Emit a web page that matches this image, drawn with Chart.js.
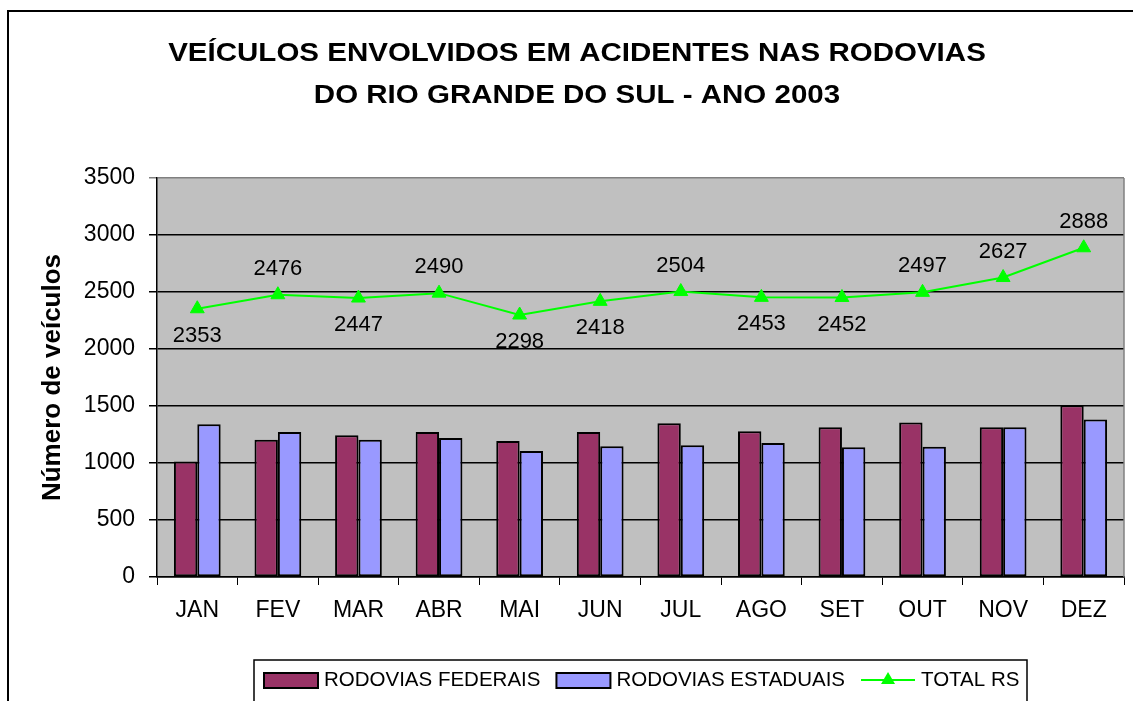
<!DOCTYPE html>
<html>
<head>
<meta charset="utf-8">
<script src="https://cdn.jsdelivr.net/npm/chart.js@4/dist/chart.umd.min.js"></script>
<style>
html,body{margin:0;padding:0;background:#fff;}
#wrap{width:1133px;height:701px;position:relative;}
</style>
</head>
<body>
<div id="wrap"><canvas id="c"></canvas></div>
<script>
const titleLines = ['VEÍCULOS ENVOLVIDOS EM ACIDENTES NAS RODOVIAS', 'DO RIO GRANDE DO SUL - ANO 2003'];
const yAxisTitle = 'Número de veículos';
const months = ['JAN','FEV','MAR','ABR','MAI','JUN','JUL','AGO','SET','OUT','NOV','DEZ'];
const federais = [1013, 1205, 1243, 1271, 1192, 1271, 1349, 1278, 1314, 1355, 1313, 1506];
const estaduais = [1340, 1271, 1204, 1219, 1106, 1147, 1155, 1175, 1138, 1142, 1314, 1382];
const totalRS = [2353, 2476, 2447, 2490, 2298, 2418, 2504, 2453, 2452, 2497, 2627, 2888];
const labelSide = ['below','above','below','above','below','below','above','below','below','above','above','above'];
const seriesNames = ['RODOVIAS FEDERAIS', 'RODOVIAS ESTADUAIS', 'TOTAL RS'];

const FONT = "'Liberation Sans', Arial, sans-serif";

const decor = {
  id: 'decor',
  beforeDraw(chart) {
    const {ctx, chartArea: a} = chart;
    ctx.save();
    ctx.fillStyle = '#ffffff';
    ctx.fillRect(0, 0, chart.width, chart.height);
    ctx.fillStyle = '#c0c0c0';
    ctx.fillRect(a.left, a.top, a.right - a.left, a.bottom - a.top);
    ctx.restore();
  },
  afterDatasetsDraw(chart) {
    const {ctx} = chart;
    const meta = chart.getDatasetMeta(2);
    ctx.save();
    ctx.font = '22px ' + FONT;
    ctx.fillStyle = '#000';
    ctx.textAlign = 'center';
    ctx.textBaseline = 'middle';
    meta.data.forEach((pt, i) => {
      const dy = labelSide[i] === 'above' ? -26 : 27;
      ctx.fillText(String(totalRS[i]), pt.x, pt.y + dy);
    });
    ctx.restore();
  },
  afterDraw(chart) {
    const {ctx, chartArea: a} = chart;
    ctx.save();
    ctx.strokeStyle = '#808080';
    ctx.lineWidth = 1.5;
    ctx.beginPath();
    ctx.moveTo(a.right, a.top);
    ctx.lineTo(a.right, a.bottom);
    ctx.stroke();
    ctx.strokeStyle = '#000';
    ctx.lineWidth = 2;
    ctx.strokeRect(8, 11, 1300, 900);
    ctx.fillStyle = '#000';
    ctx.font = 'bold 26px ' + FONT;
    ctx.textAlign = 'center';
    ctx.textBaseline = 'middle';
    const cx = 577, sx = 1.135;
    [54, 96].forEach((y, i) => {
      ctx.save();
      ctx.translate(cx, y);
      ctx.scale(sx, 1);
      ctx.fillText(titleLines[i], 0, 0);
      ctx.restore();
    });
    ctx.lineWidth = 1.5;
    ctx.strokeStyle = '#000';
    ctx.strokeRect(254, 660, 773, 80);
    ctx.font = '20.5px ' + FONT;
    ctx.textAlign = 'left';
    ctx.textBaseline = 'middle';
    const ly = 680;
    let x = 264;
    const ds = chart.data.datasets;
    for (let i = 0; i < 3; i++) {
      if (i < 2) {
        ctx.fillStyle = ds[i].backgroundColor;
        ctx.fillRect(x, ly - 7, 54, 15);
        ctx.lineWidth = 2;
        ctx.strokeStyle = '#000';
        ctx.strokeRect(x, ly - 7, 54, 15);
      } else {
        ctx.strokeStyle = ds[i].borderColor;
        ctx.lineWidth = 2;
        ctx.beginPath();
        ctx.moveTo(x, ly);
        ctx.lineTo(x + 54, ly);
        ctx.stroke();
        ctx.fillStyle = ds[i].pointBackgroundColor;
        ctx.beginPath();
        ctx.moveTo(x + 27, ly - 8);
        ctx.lineTo(x + 27 + 7, ly + 4);
        ctx.lineTo(x + 27 - 7, ly + 4);
        ctx.closePath();
        ctx.fill();
      }
      ctx.fillStyle = '#000';
      ctx.fillText(seriesNames[i], x + 60, ly);
      x = x + 60 + ctx.measureText(seriesNames[i]).width + 16;
    }
    ctx.restore();
  }
};

new Chart(document.getElementById('c'), {
  data: {
    labels: months,
    datasets: [
      {type: 'bar', label: seriesNames[0], data: federais, backgroundColor: '#993366', borderColor: '#000', borderWidth: 2, borderSkipped: false, order: 2, barPercentage: 1, categoryPercentage: 0.58},
      {type: 'bar', label: seriesNames[1], data: estaduais, backgroundColor: '#9999ff', borderColor: '#000', borderWidth: 2, borderSkipped: false, order: 2, barPercentage: 1, categoryPercentage: 0.58},
      {type: 'line', label: seriesNames[2], data: totalRS, borderColor: '#00ff00', backgroundColor: '#00ff00', borderWidth: 2, pointStyle: 'triangle', pointRadius: 8, pointBackgroundColor: '#00ff00', pointBorderColor: '#00ff00', pointBorderWidth: 1, tension: 0, order: 0}
    ]
  },
  options: {
    responsive: true,
    maintainAspectRatio: false,
    animation: false,
    layout: {padding: {top: 178, left: 0, right: 7, bottom: 74}},
    plugins: {legend: {display: false}, title: {display: false}, tooltip: {enabled: false}},
    scales: {
      x: {
        offset: true,
        grid: {display: true, drawOnChartArea: false, drawTicks: true, tickLength: 8, color: '#000', offset: true},
        border: {color: '#000', width: 1.5},
        ticks: {color: '#000', font: {family: FONT, size: 23}, padding: 12, maxRotation: 0},
        afterFit(s) { s.height = 50; }
      },
      y: {
        min: 0, max: 3500,
        grid: {color: (c) => c.tick && c.tick.value === 3500 ? '#808080' : '#000', lineWidth: 1.5, tickLength: 8, drawTicks: true},
        border: {color: '#000', width: 1.5},
        ticks: {stepSize: 500, color: '#000', font: {family: FONT, size: 23}, padding: 14, callback: (v) => String(v)},
        title: {display: true, text: yAxisTitle, color: '#000', font: {family: FONT, size: 26, weight: 'bold'}, padding: {top: 37, bottom: 0}},
        afterFit(s) { s.width = 157; }
      }
    }
  },
  plugins: [decor]
});
</script>
</body>
</html>
